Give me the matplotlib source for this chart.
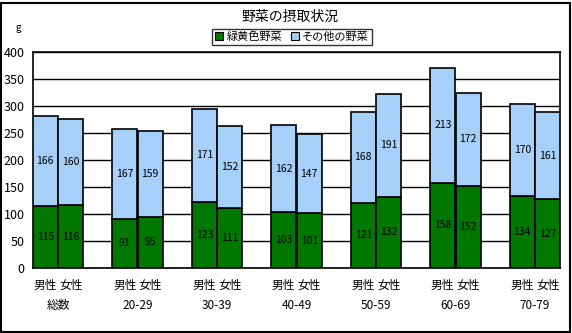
import numpy as np
import matplotlib
matplotlib.use('Agg')
import matplotlib.pyplot as plt
from matplotlib.patches import Rectangle
from matplotlib.transforms import blended_transform_factory

plt.rcParams['font.family'] = ['Noto Sans CJK JP', 'DejaVu Sans']

# 年齢階級別・男女別の野菜摂取量 (g)
groups = ['総数', '20-29', '30-39', '40-49', '50-59', '60-69', '70-79']
sexes = ['男性', '女性']
male_green = [115, 91, 123, 103, 121, 158, 134]
male_other = [166, 167, 171, 162, 168, 213, 170]
female_green = [116, 95, 111, 101, 132, 152, 127]
female_other = [160, 159, 152, 147, 191, 172, 161]

GREEN = '#007800'
BLUE = '#a6cff9'

W, H = 572, 333
fig = plt.figure(figsize=(W / 100, H / 100), dpi=100)
ax = fig.add_axes([33 / W, 1 - 268 / H, 527 / W, 216 / H])

x = np.arange(len(groups))
w = 0.31
off = 0.16

for pos, green, other in [(x - off, male_green, male_other),
                          (x + off, female_green, female_other)]:
    ax.bar(pos, green, w, color=GREEN, edgecolor='black', linewidth=1.2, zorder=3)
    ax.bar(pos, other, w, bottom=green, color=BLUE, edgecolor='black',
           linewidth=1.2, zorder=3)
    for p, g, o in zip(pos, green, other):
        ax.text(p, g / 2, str(g), ha='center', va='center', fontsize=7.5, zorder=4)
        ax.text(p, g + o / 2, str(o), ha='center', va='center', fontsize=7.5, zorder=4)

ax.set_ylim(0, 400)
ax.set_yticks(np.arange(0, 401, 50))
ax.set_xlim(-off - w / 2, len(groups) - 1 + off + w / 2)
ax.yaxis.grid(True, color='black', linewidth=1.0, zorder=0)
ax.set_axisbelow(True)

ticks = np.concatenate([x - off, x + off])
ax.set_xticks(ticks)
ax.set_xticklabels(sexes[:1] * len(groups) + sexes[1:] * len(groups))
ax.tick_params(axis='x', length=0, pad=8, labelsize=8.5)
ax.tick_params(axis='y', length=0, pad=6, labelsize=9)

for s in ax.spines.values():
    s.set_color('black')
    s.set_linewidth(1.2)

trans = blended_transform_factory(ax.transData, ax.transAxes)
for i, g in enumerate(groups):
    ax.text(i, -0.175, g, transform=trans, ha='center', va='center', fontsize=8.5)

fig.text(290 / W, 1 - 17 / H, '野菜の摂取状況', ha='center', va='center', fontsize=10)
fig.text(18 / W, 1 - 28 / H, 'g', ha='center', va='center', fontsize=7)

handles = [Rectangle((0, 0), 1, 1, facecolor=GREEN, edgecolor='black', linewidth=0.8),
           Rectangle((0, 0), 1, 1, facecolor=BLUE, edgecolor='black', linewidth=0.8)]
leg = fig.legend(handles, ['緑黄色野菜', 'その他の野菜'], loc='center',
                 bbox_to_anchor=(292 / W, 1 - 37 / H), ncol=2, fontsize=8,
                 frameon=True, fancybox=False, handlelength=0.7, handleheight=0.7,
                 handletextpad=0.3, columnspacing=0.8, borderpad=0.25,
                 borderaxespad=0)
leg.get_frame().set_edgecolor('black')
leg.get_frame().set_linewidth(1.0)

fig.patches.append(Rectangle((0.5 / W, 1.5 / H), (W - 3) / W, (H - 4) / H,
                             transform=fig.transFigure, fill=False,
                             edgecolor='black', linewidth=1.5))

fig.savefig('out.png', dpi=100)
